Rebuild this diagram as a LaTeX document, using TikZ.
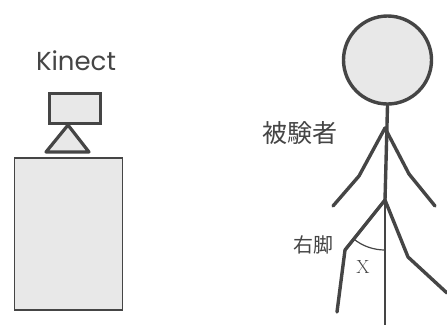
\documentclass[tikz,border=0pt]{standalone}
\usepackage{fontspec}
\setsansfont{Poppins}
\newfontfamily\jpfont{Noto Sans CJK JP}
\usepackage{tikz}
\usetikzlibrary{calc}
\definecolor{inkgrey}{HTML}{454545}
\definecolor{paleg}{HTML}{E8E8E8}
\tikzset{
  % kamera og bord
  cambox/.style={draw=inkgrey,fill=paleg,line width=3.2pt,inner sep=0pt,
                 minimum width=51pt,minimum height=30pt},
  camfoot/.style={draw=inkgrey,fill=paleg,line width=3.2pt,line join=round},
  stand/.style={draw=inkgrey,fill=paleg,line width=1.3pt,inner sep=0pt,
                minimum width=108pt,minimum height=152pt},
  % figur
  head/.style={circle,draw=inkgrey,fill=paleg,line width=3.4pt,inner sep=0pt,
               minimum size=88pt},
  limb/.style={draw=inkgrey,line width=3.4pt,line cap=round,line join=round},
  refl/.style={draw=inkgrey,line width=1.2pt},
  lbl/.style={inner sep=0pt,text=inkgrey},
}
\begin{document}
\begin{tikzpicture}[x=1pt,y=1pt]
  \useasboundingbox (0,0) rectangle (447,-325);
  \node[lbl,font=\sffamily\fontsize{26}{30}\selectfont] (kin) at (76,-61) {Kinect};
  \node[stand] (desk) at (68.5,-234) {};
  \node[cambox] (cam) at (75,-108.5) {};
  \coordinate (tipA) at (68,-125);
  \coordinate (tipL) at (46,-152);
  \coordinate (tipR) at (89,-152);
  \draw[camfoot] (tipA) -- (tipL) -- (tipR) -- cycle;

  \node[head] (hd) at (387.5,-60) {};
  \coordinate (neck) at (385,-106);
  \coordinate (shld) at (385,-128);
  \coordinate (crot) at (385,-200);
  \coordinate (elbL) at (359,-176);
  \coordinate (hndL) at (333,-206);
  \coordinate (elbR) at (409,-174);
  \coordinate (hndR) at (435,-206);
  \coordinate (kneL) at (345,-250);
  \coordinate (ftL) at (337,-312);
  \coordinate (kneR) at (408,-257);
  \coordinate (ftR) at (447,-293);
  \coordinate (base) at (385,-325);
  \draw[limb] (hd.south) -- (crot);
  \draw[limb] (shld) -- (elbL) -- (hndL);
  \draw[limb] (shld) -- (elbR) -- (hndR);
  \draw[limb] (crot) -- (kneL) -- (ftL);
  \draw[limb] (crot) -- (kneR) -- (ftR);
  \draw[refl] (crot) -- (base);
  \draw[refl] (crot) ++(231.3:50) arc[start angle=231.3,end angle=270,radius=50];

  \node[lbl,font=\jpfont\fontsize{25}{28}\selectfont] (subj) at (300,-133) {被験者};
  \node[lbl,font=\jpfont\fontsize{20}{22}\selectfont] (rleg) at (313,-245) {右脚};
  \node[lbl,font=\rmfamily\fontsize{19}{20}\selectfont] (ang) at (363,-267) {X};
\end{tikzpicture}
\end{document}
